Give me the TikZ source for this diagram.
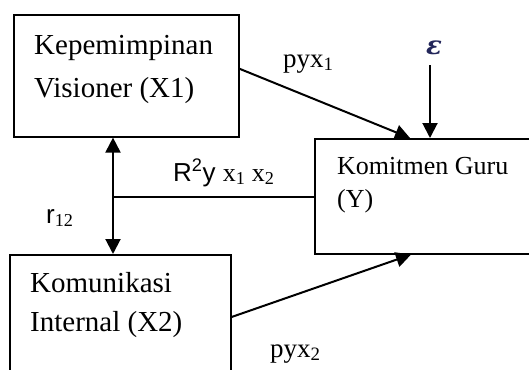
\documentclass[tikz,border=0pt]{standalone}
\usepackage{fontspec}
\setmainfont{Liberation Serif}
\setsansfont{Liberation Sans}
\newfontfamily\epsfont{DejaVu Serif}
\usetikzlibrary{arrows.meta}
\definecolor{epscol}{RGB}{35,38,90}
\begin{document}
\begin{tikzpicture}[x=1pt,y=-1pt,
  box/.style={draw, line width=1.6pt, inner sep=0pt, anchor=north west},
  conn/.style={line width=2pt, -{Triangle[length=15pt,width=15pt]}},
  big/.style={font=\fontsize{29}{35}\selectfont, anchor=base west, inner sep=0pt},
  mid/.style={font=\fontsize{26}{31}\selectfont, anchor=base west, inner sep=0pt},
  lab/.style={font=\fontsize{27}{32}\selectfont, anchor=base west, inner sep=0pt},
  slab/.style={font=\fontsize{26}{31}\selectfont, anchor=base west, inner sep=0pt},
]
\useasboundingbox (0,0) rectangle (529,369);
\clip (0,0) rectangle (529,369);

% the three variable boxes
\node[box, minimum width=225pt, minimum height=122pt] (X1) at (13,14) {};
\node[box, minimum width=260pt, minimum height=115pt] (Y) at (314,138) {};
\node[box, minimum width=221pt, minimum height=150pt] (X2) at (9,254) {};

% box texts
\node[big] (t1a) at (34,55) {Kepemimpinan};
\node[big] (t1b) at (34,97) {Visioner (X1)};
\node[mid] (tya) at (337,174) {Komitmen Guru};
\node[mid] (tyb) at (337,207) {(Y)};
\node[big] (t2a) at (30,292) {Komunikasi};
\node[big] (t2b) at (30,331) {Internal (X2)};

% residual term
\node[inner sep=0pt, text=epscol] (eps) at (434,48) {\epsfont\bfseries\itshape\fontsize{26}{30}\selectfont ε};
\coordinate (epsfoot) at (434,65);

% path coefficients
\coordinate (tip1) at ([xshift=96pt]Y.north west);
\coordinate (tipE) at ([xshift=116pt]Y.north west);
\coordinate (tip2) at ([xshift=97pt]Y.south west);
\draw[conn] ([yshift=7pt]X1.east) -- (tip1);
\draw[conn] (epsfoot -| tipE) -- (tipE);
\draw[conn] ([yshift=-63pt]X2.north east) -- (tip2);

% correlation between X1 and X2, joint effect on Y
\coordinate (jn) at (113,197);
\draw[line width=2pt, {Triangle[length=15pt,width=15pt]}-{Triangle[length=15pt,width=15pt]}]
  (jn |- X1.south) -- (jn |- X2.north);
\draw[line width=1.6pt] (jn) -- (jn -| Y.west);

% labels
\node[lab] (p1) at (283,67) {pyx\textsubscript{1}};
\node[lab] (p2) at (270,357) {pyx\textsubscript{2}};
\node[slab] (r2) at (173,181) {\sffamily R\textsuperscript{2}y \rmfamily x\textsubscript{1} x\textsubscript{2}};
\node[slab] (r12) at (46,223) {\sffamily r\rmfamily\textsubscript{12}};
\end{tikzpicture}
\end{document}
